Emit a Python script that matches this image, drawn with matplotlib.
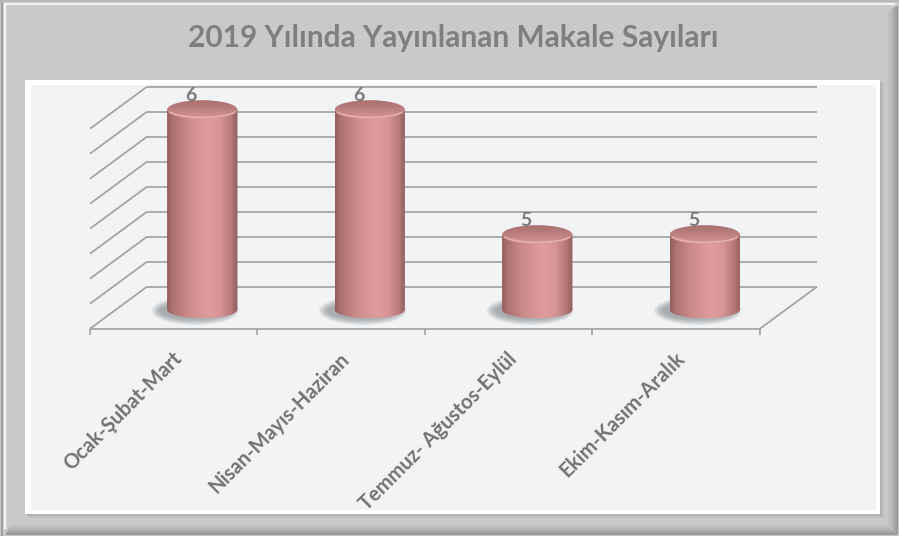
import numpy as np
import matplotlib
matplotlib.use("Agg")
import matplotlib.pyplot as plt
from matplotlib.patches import Ellipse, PathPatch, Rectangle
from matplotlib.path import Path
from matplotlib.transforms import offset_copy, IdentityTransform
from matplotlib.colors import LinearSegmentedColormap

# ---------------- data ----------------
categories = ["Ocak-Şubat-Mart", "Nisan-Mayıs-Haziran",
              "Temmuz- Ağustos-Eylül", "Ekim-Kasım-Aralık"]
values = [6, 6, 5, 5]
value_labels = ["6", "6", "5", "5"]
y_min, y_max, y_step = 4.4, 6.0, 0.2
title = "2019 Yılında Yayınlanan Makale Sayıları"

# ---------------- layout ----------------
W, H, DPI = 899, 536, 100
FONT = "Lato"
fig = plt.figure(figsize=(W / DPI, H / DPI), dpi=DPI)
fig.patch.set_facecolor("#c9c9c9")
ax = fig.add_axes([0, 0, 1, 1])
ax.set_axis_off()
ax.patch.set_alpha(0)

PXC, PXV = 167.5, 125.0          # pixels per category / per value unit
X0, Y0 = 118.5, 228.3            # pixel position of (cat -0.5, y_min) in the mid plane
ax.set_xlim(-0.5 - X0 / PXC, -0.5 + (W - X0) / PXC)
ax.set_ylim(y_min - Y0 / PXV, y_min + (H - Y0) / PXV)
ax.set_autoscale_on(False)

DX, DY = 28.5, 21.0              # depth offset (pixels)
back = offset_copy(ax.transData, fig=fig, x=DX, y=DY, units="dots")
front = offset_copy(ax.transData, fig=fig, x=-DX, y=-DY, units="dots")
bar_t = offset_copy(ax.transData, fig=fig, x=0, y=-2, units="dots")
ident = IdentityTransform()


def frac(px, py_img):
    return px / W, 1 - py_img / H


# ---------------- frame ----------------
T = ax.transAxes
for i, col in enumerate(["#9a9a9a", "#a4a4a4", "#b0b0b0", "#bababa", "#c2c2c2"]):
    ax.plot([frac(W - 2 - 2 * i, 0)[0]] * 2, [frac(0, 6 + i)[1], frac(0, H - 2 - 2 * i)[1]],
            color=col, lw=1.6, transform=T, zorder=0.2, solid_capstyle="butt")
    ax.plot([frac(6 + i, 0)[0], frac(W - 2 - 2 * i, 0)[0]], [frac(0, H - 2 - 2 * i)[1]] * 2,
            color=col, lw=1.6, transform=T, zorder=0.2, solid_capstyle="butt")
ax.plot([frac(1.5, 0)[0]] * 2, [frac(0, 1)[1], frac(0, H - 1)[1]], color="#9c9c9c", lw=1.4,
        transform=T, zorder=0.3)
ax.plot([frac(0, 0)[0], frac(W, 0)[0]], [frac(0, 1)[1]] * 2, color="#b8b8b8", lw=1.4,
        transform=T, zorder=0.3)
ax.plot([frac(5, 0)[0]] * 2, [frac(0, 4)[1], frac(0, H - 8)[1]], color="#f5f5f5", lw=1.6,
        transform=T, zorder=0.3)
ax.plot([frac(5, 0)[0], frac(W - 5, 0)[0]], [frac(0, 4)[1]] * 2, color="#f5f5f5", lw=1.6,
        transform=T, zorder=0.3)

for k, col in enumerate(["#b4b4b4", "#bcbcbc", "#c3c3c3"]):
    x0, y1 = frac(27 + k, 82 + k)
    x1, y0 = frac(882 + k, 516 + k)
    ax.add_patch(Rectangle((x0, y0), x1 - x0, y1 - y0, transform=T, facecolor=col,
                           edgecolor="none", zorder=0.4 - 0.01 * k))
x0, y1 = frac(25, 80)
x1, y0 = frac(879.5, 513.5)
ax.add_patch(Rectangle((x0, y0), x1 - x0, y1 - y0, transform=T, facecolor="white",
                       edgecolor="none", zorder=0.5))
x0, y1 = frac(31, 85.5)
x1, y0 = frac(875.5, 509.5)
interior = Rectangle((x0, y0), x1 - x0, y1 - y0, transform=T, facecolor="#f2f3f5",
                     edgecolor="none", zorder=0.6)
ax.add_patch(interior)

tx, ty = frac(453.5, 37.5)
ax.text(tx, ty, title, transform=T, ha="center", va="center", fontsize=21.5,
        fontweight="bold", color="#7f7f7f", family=FONT, zorder=5)

# ---------------- walls / grid ----------------
GRID = dict(color="#9f9f9f", lw=1.2, zorder=1, solid_capstyle="butt")
grid_vals = np.round(np.arange(y_min, y_max + 1e-9, y_step), 2)
x_lo, x_hi = -0.5, len(categories) - 0.5
for v in grid_vals:
    ax.plot([x_lo, x_hi], [v, v], transform=back, **GRID)
    p1 = back.transform((x_lo, v))
    p2 = front.transform((x_lo, v))
    ax.plot([p1[0], p2[0]], [p1[1], p2[1]], transform=ident, **GRID)

ax.plot([x_lo, x_hi], [y_min, y_min], transform=front, **GRID)
p1 = back.transform((x_hi, y_min))
p2 = front.transform((x_hi, y_min))
ax.plot([p1[0], p2[0]], [p1[1], p2[1]], transform=ident, **GRID)
for b in np.arange(x_lo, x_hi + 0.01, 1.0):
    p = front.transform((b, y_min))
    ax.plot([p[0], p[0]], [p[1], p[1] - 6], transform=ident, **GRID)

# ---------------- cylinders ----------------
body_cmap = LinearSegmentedColormap.from_list("body", [
    (0.0, "#965d5d"), (0.08, "#ad7272"), (0.3, "#cc8a8b"), (0.58, "#e09c9e"),
    (0.75, "#d79495"), (0.9, "#b67a7a"), (1.0, "#935d5d")])
cap_cmap = LinearSegmentedColormap.from_list("cap", [
    (0.0, "#a96f6f"), (0.5, "#bd8080"), (1.0, "#d89899")])

hw = 0.21
ry_top = 9.5 / PXV
ry_bot = 8.5 / PXV
theta = np.linspace(np.pi, 2 * np.pi, 80)
for i, v in enumerate(values):
    c = i
    for k in range(8):
        s = 1.0 + 0.035 * k
        ax.add_patch(Ellipse((c - 7 / PXC, y_min - 1.0 / PXV), 2 * hw * s,
                             2 * ry_bot * (1.0 + 0.1 * k), transform=bar_t,
                             facecolor="#6a7072", edgecolor="none", alpha=0.085, zorder=2))
    verts = [(c - hw, v)]
    verts += list(zip(c + hw * np.cos(theta), y_min + ry_bot * np.sin(theta)))
    verts += [(c + hw, v), (c - hw, v)]
    codes = [Path.MOVETO] + [Path.LINETO] * (len(verts) - 2) + [Path.CLOSEPOLY]
    body = PathPatch(Path(verts, codes), transform=bar_t, facecolor="none",
                     edgecolor="none", zorder=3)
    ax.add_patch(body)
    im = ax.imshow(np.linspace(0, 1, 256)[None, :], cmap=body_cmap, aspect="auto",
                   extent=(c - hw, c + hw, y_min - ry_bot, v), transform=bar_t,
                   interpolation="bilinear", zorder=3)
    im.set_clip_path(body)
    cap = Ellipse((c, v), 2 * hw, 2 * ry_top, transform=bar_t, facecolor="none",
                  edgecolor="none", zorder=4)
    ax.add_patch(cap)
    im2 = ax.imshow(np.linspace(0, 1, 64)[:, None], cmap=cap_cmap, aspect="auto",
                    extent=(c - hw, c + hw, v - ry_top, v + ry_top), transform=bar_t,
                    interpolation="bilinear", zorder=4)
    im2.set_clip_path(cap)
    th2 = np.linspace(np.pi * 1.1, np.pi * 1.9, 40)
    ax.plot(c + hw * 0.97 * np.cos(th2), v + ry_top * 0.8 * np.sin(th2), transform=bar_t,
            color="#ecb8b8", lw=1.0, alpha=0.85, zorder=4.5)
    ax.annotate(value_labels[i], xy=(c, v), xycoords=bar_t, xytext=(-11, 6),
                textcoords="offset pixels", ha="center", va="bottom", fontsize=14,
                fontweight="bold", color="#7a7a7a", family=FONT, zorder=6)

# ---------------- category labels ----------------
for i, cat in enumerate(categories):
    t = ax.annotate(cat, xy=(i, y_min), xycoords=front, xytext=(5, -27),
                    textcoords="offset pixels", rotation=45, rotation_mode="anchor",
                    ha="right", va="center", fontsize=14.5, fontweight="bold",
                    color="#727272", family=FONT, zorder=6)
    t.set_clip_path(interior)

fig.savefig("out.png", dpi=DPI, facecolor=fig.get_facecolor())
